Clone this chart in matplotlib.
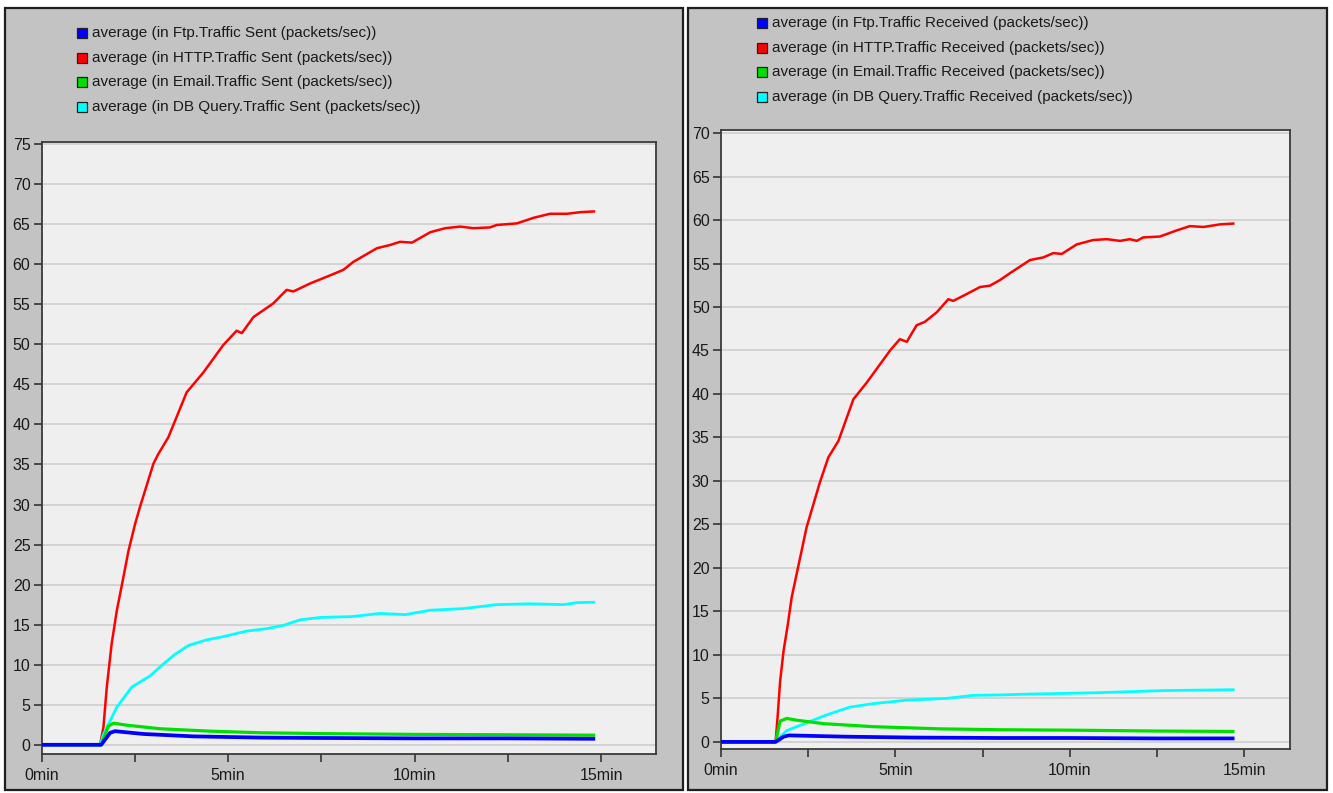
import matplotlib
matplotlib.use("Agg")
import matplotlib.pyplot as plt
from matplotlib.patches import Rectangle
from matplotlib.ticker import FixedLocator

plt.rcParams['font.family'] = ['Liberation Sans', 'DejaVu Sans']

# ---------------- data (minutes, packets/sec) ----------------
# Traffic sent
t_ftp_sent = [0, 1.6, 1.84, 1.97, 2.73, 4.07, 5.86, 7.47, 10.0, 12.5, 14.84]
ftp_sent = [0, 0, 1.5, 1.7, 1.35, 1.05, 0.9, 0.85, 0.8, 0.8, 0.75]

t_http_sent = [0, 1.57, 1.66, 1.75, 1.88, 2.02, 2.19, 2.33, 2.51, 2.64, 3.0, 3.13,
               3.4, 3.89, 4.34, 4.87, 5.23, 5.37, 5.68, 6.21, 6.57, 6.75, 7.2,
               7.73, 8.09, 8.36, 8.99, 9.34, 9.61, 9.93, 10.42, 10.82, 11.22,
               11.58, 12.02, 12.2, 12.74, 13.19, 13.63, 14.08, 14.44, 14.84]
http_sent = [0, 0, 2.2, 7.2, 12.6, 16.8, 20.8, 24.2, 27.6, 29.7, 35.1, 36.3,
             38.4, 44.0, 46.5, 49.9, 51.7, 51.4, 53.4, 55.1, 56.8, 56.6, 57.6,
             58.6, 59.3, 60.3, 62.0, 62.4, 62.8, 62.7, 64.0, 64.5, 64.7,
             64.5, 64.6, 64.9, 65.1, 65.8, 66.3, 66.3, 66.5, 66.6]

t_email_sent = [0, 1.6, 1.79, 1.93, 2.28, 3.18, 4.52, 5.9, 7.47, 10.0, 12.5, 14.84]
email_sent = [0, 0, 2.3, 2.7, 2.45, 2.0, 1.7, 1.5, 1.4, 1.3, 1.25, 1.2]

t_db_sent = [0, 1.57, 1.66, 2.02, 2.42, 2.91, 3.27, 3.58, 3.94, 4.43, 4.87,
             5.5, 6.04, 6.48, 6.93, 7.47, 8.3, 9.07, 9.75, 10.42, 11.3,
             12.2, 13.1, 14.0, 14.35, 14.84]
db_sent = [0, 0, 1.3, 4.7, 7.2, 8.6, 10.1, 11.3, 12.4, 13.1, 13.5,
           14.2, 14.5, 14.9, 15.6, 15.9, 16.0, 16.4, 16.25, 16.8, 17.0,
           17.5, 17.6, 17.5, 17.75, 17.8]

# Traffic received
t_ftp_recv = [0, 1.57, 1.8, 1.95, 3.6, 5.5, 8.0, 10.0, 12.5, 14.72]
ftp_recv = [0, 0, 0.6, 0.75, 0.6, 0.5, 0.45, 0.45, 0.4, 0.4]

t_http_recv = [0, 1.57, 1.63, 1.7, 1.8, 1.92, 2.03, 2.46, 2.84, 3.08, 3.37, 3.8,
               4.18, 4.85, 5.13, 5.33, 5.61, 5.85, 6.19, 6.52, 6.66, 7.05,
               7.43, 7.71, 8.0, 8.29, 8.86, 9.24, 9.53, 9.77, 10.2, 10.67,
               11.06, 11.44, 11.72, 11.92, 12.1, 12.58, 13.06, 13.44, 13.83,
               14.3, 14.72]
http_recv = [0, 0, 3.0, 7.0, 10.5, 13.5, 16.6, 24.7, 29.85, 32.7, 34.6, 39.4,
             41.3, 45.0, 46.3, 46.0, 47.9, 48.3, 49.4, 50.9, 50.7, 51.5,
             52.3, 52.45, 53.1, 53.9, 55.4, 55.7, 56.2, 56.1, 57.2, 57.7,
             57.8, 57.6, 57.8, 57.6, 58.0, 58.1, 58.8, 59.3, 59.2,
             59.5, 59.6]

t_email_recv = [0, 1.57, 1.7, 1.89, 2.17, 2.94, 4.37, 6.28, 8.0, 10.0, 12.5, 14.72]
email_recv = [0, 0, 2.4, 2.7, 2.5, 2.1, 1.75, 1.5, 1.4, 1.35, 1.25, 1.2]

t_db_recv = [0, 1.55, 1.89, 2.46, 3.03, 3.7, 4.37, 5.33, 6.47, 7.23, 8.0,
             8.86, 10.77, 12.68, 14.72]
db_recv = [0, 0, 1.3, 2.2, 3.1, 4.0, 4.4, 4.8, 5.0, 5.35, 5.4,
           5.5, 5.65, 5.9, 6.0]

colors = ['#0000ff', '#ff0000', '#00e000', '#00ffff']
widths = [2.7, 1.8, 2.3, 2.0]
sent_labels = ['average (in Ftp.Traffic Sent (packets/sec))',
               'average (in HTTP.Traffic Sent (packets/sec))',
               'average (in Email.Traffic Sent (packets/sec))',
               'average (in DB Query.Traffic Sent (packets/sec))']
recv_labels = ['average (in Ftp.Traffic Received (packets/sec))',
               'average (in HTTP.Traffic Received (packets/sec))',
               'average (in Email.Traffic Received (packets/sec))',
               'average (in DB Query.Traffic Received (packets/sec))']
x_ticks = [0, 5, 10, 15]
x_labels = ['0min', '5min', '10min', '15min']

# ---------------- layout helpers (pixel boxes, origin top-left) ----------------
W, H = 1333, 793
fig = plt.figure(figsize=(W / 100, H / 100), dpi=100)
fig.patch.set_facecolor('white')


def box(x0, y0, x1, y1):
    return [x0 / W, 1 - y1 / H, (x1 - x0) / W, (y1 - y0) / H]


def panel_frame(x0, y0, x1, y1):
    fig.add_artist(Rectangle((x0 / W, 1 - y1 / H), (x1 - x0) / W, (y1 - y0) / H,
                             transform=fig.transFigure, facecolor='#c3c3c3',
                             edgecolor='#1e1e1e', linewidth=1.6, zorder=-5))


def legend_rows(x_sq, y_first, labels):
    for i, (c, lab) in enumerate(zip(colors, labels)):
        yc = y_first + 24.7 * i
        fig.add_artist(Rectangle((x_sq / W, 1 - (yc + 5) / H), 10 / W, 10 / H,
                                 transform=fig.transFigure, facecolor=c,
                                 edgecolor='#202020', linewidth=0.9))
        fig.text((x_sq + 15) / W, 1 - yc / H, lab, fontsize=11, color='#1a1a1a',
                 ha='left', va='center')


def draw_axes(bx, ylim, xmax, yticks, series):
    ax = fig.add_axes(box(*bx))
    ax.set_facecolor('#efefef')
    # draw order: HTTP, DB Query, Email, Ftp (Ftp on top)
    for k in (1, 3, 2, 0):
        t, v = series[k]
        ax.plot(t, v, color=colors[k], lw=widths[k], solid_joinstyle='round',
                solid_capstyle='butt', zorder=3)
    ax.set_xlim(0, xmax)
    ax.set_ylim(*ylim)
    ax.set_yticks(yticks)
    ax.set_xticks(x_ticks)
    ax.set_xticklabels(x_labels)
    ax.xaxis.set_minor_locator(FixedLocator([2.5, 7.5, 12.5]))
    ax.grid(axis='y', color='#d3d3d3', lw=1.4)
    ax.set_axisbelow(True)
    ax.tick_params(which='both', direction='out', length=6, width=1.2,
                   color='#333333', labelsize=11.5, labelcolor='#1a1a1a')
    ax.tick_params(axis='y', pad=2)
    ax.tick_params(axis='x', pad=4)
    for s in ax.spines.values():
        s.set_color('#3a3a3a')
        s.set_linewidth(1.3)
    return ax


# left panel: traffic sent
panel_frame(5, 8, 683, 790)
legend_rows(77, 33, sent_labels)
draw_axes((41.5, 141.7, 656, 754), (-1.15, 75.3), 16.47, list(range(0, 76, 5)),
          [(t_ftp_sent, ftp_sent), (t_http_sent, http_sent),
           (t_email_sent, email_sent), (t_db_sent, db_sent)])

# right panel: traffic received
panel_frame(688, 8, 1327, 790)
legend_rows(757, 23, recv_labels)
draw_axes((720.8, 130, 1290, 749.3), (-0.85, 70.35), 16.31, list(range(0, 71, 5)),
          [(t_ftp_recv, ftp_recv), (t_http_recv, http_recv),
           (t_email_recv, email_recv), (t_db_recv, db_recv)])

fig.savefig('out.png', dpi=100, facecolor=fig.get_facecolor())
